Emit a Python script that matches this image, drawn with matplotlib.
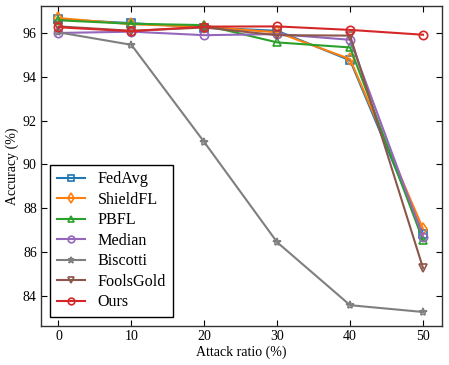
import matplotlib
matplotlib.use("Agg")
import matplotlib.pyplot as plt

plt.rcParams['font.family'] = ['Liberation Serif', 'DejaVu Serif']
plt.rcParams['mathtext.fontset'] = 'stix'

ratios = [0, 10, 20, 30, 40, 50]
fedavg = [96.62, 96.45, 96.25, 96.1, 94.75, 86.84]
shieldfl = [96.68, 96.4, 96.28, 96.03, 94.81, 87.07]
pbfl = [96.58, 96.42, 96.36, 95.57, 95.34, 86.54]
median = [96.0, 96.06, 95.9, 95.95, 95.69, 86.7]
biscotti = [96.03, 95.46, 91.02, 86.45, 83.58, 83.27]
foolsgold = [96.3, 96.1, 96.25, 95.9, 95.88, 85.28]
ours = [96.26, 96.08, 96.29, 96.3, 96.14, 95.92]

series = [
    ("FedAvg", fedavg, 's', '#1f77b4'),
    ("ShieldFL", shieldfl, 'd', '#ff7f0e'),
    ("PBFL", pbfl, '^', '#2ca02c'),
    ("Median", median, 'o', '#9467bd'),
    ("Biscotti", biscotti, '*', '#7f7f7f'),
    ("FoolsGold", foolsgold, 'v', '#8c564b'),
    ("Ours", ours, 'o', '#d62728'),
]

fig = plt.figure(figsize=(4.49, 3.65), dpi=100)
ax = fig.add_axes([0.0913, 0.1068, 0.893, 0.8767])

for name, vals, mk, col in series:
    ax.plot(ratios, vals, marker=mk, color=col, label=name, linewidth=1.5,
            markersize=6, markerfacecolor='none', markeredgewidth=1.2)

ax.set_xlim(-2.4, 52.6)
ax.set_ylim(82.63, 97.23)
ax.set_xticks(ratios)
ax.set_yticks([84, 86, 88, 90, 92, 94, 96])
ax.tick_params(direction='in', top=True, right=True, labelsize=10, length=4, pad=3)
for s in ax.spines.values():
    s.set_color('#333333')
    s.set_linewidth(1.0)
ax.set_xlabel("Attack ratio (%)", fontsize=10, labelpad=2)
ax.set_ylabel("Accuracy (%)", fontsize=10, labelpad=3)

leg = ax.legend(loc='lower left', fontsize=11.6, fancybox=False, edgecolor='black',
                framealpha=1, borderaxespad=0.55, handlelength=1.75,
                markerscale=0.8, labelspacing=0.28, borderpad=0.42)
leg.get_frame().set_linewidth(1.0)

fig.savefig("out.png", dpi=100)
